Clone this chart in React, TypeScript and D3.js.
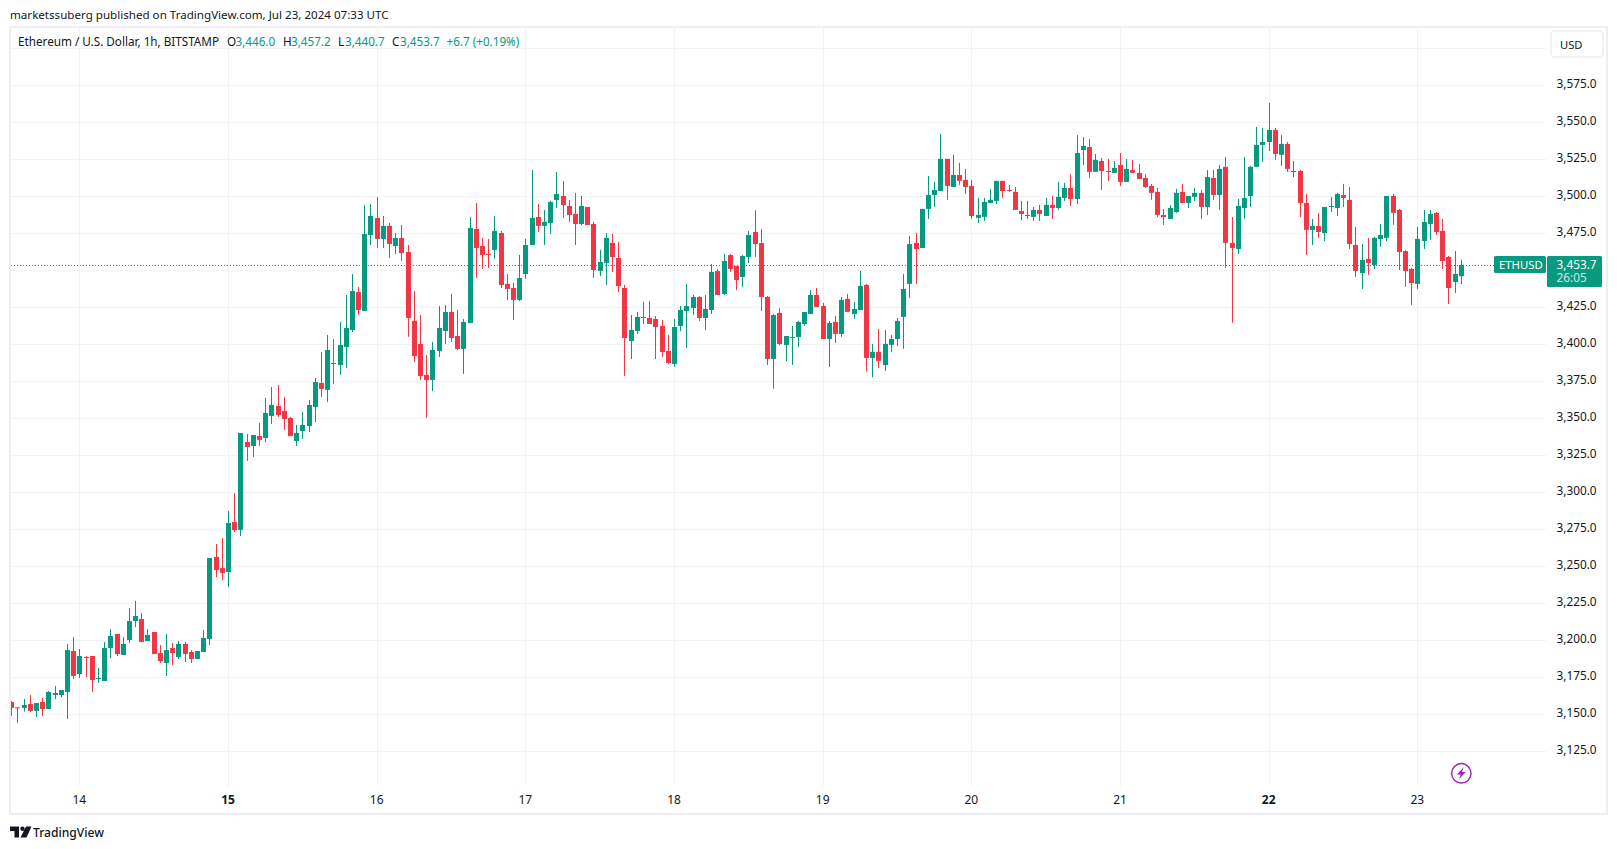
import { useEffect, useRef } from "react";
import * as d3 from "d3";

const WIDTH = 1617;
const HEIGHT = 849;

// hourly candles, Jul 13 13:00 UTC to Jul 23 07:00 UTC
const startTime = Date.UTC(2024, 6, 13, 13);
const endTime = Date.UTC(2024, 6, 23, 7);

const opens = [
  3158.3, 3154.7, 3154.3, 3157, 3152.3, 3158.3, 3153.6, 3163, 3163, 3165.1, 3192.8, 3177.2, 3188.7, 3189.4, 3173.9, 3172.5, 3194.8, 3204.3, 3190.1, 3200.2,
  3213, 3214.4, 3199.5, 3205.6, 3191.4, 3184.7, 3194.8, 3188.7, 3197.5, 3192.1, 3187.4, 3192.1, 3200.9, 3256.3, 3248.8, 3246.1, 3279.9, 3274.6, 3334, 3331.3,
  3338, 3336.7, 3351.6, 3358.3, 3354.9, 3350.2, 3334.7, 3341.4, 3344.8, 3357.7, 3373.9, 3369.2, 3387.4, 3386, 3398.2, 3409.7, 3435.3, 3422.5, 3473.8, 3485.3,
  3471.2, 3480, 3466.4, 3471.8, 3462.4, 3415.8, 3400.2, 3379.3, 3375.9, 3395.5, 3409, 3421.9, 3405.6, 3396.9, 3414.4, 3477.9, 3466.4, 3461, 3463.8, 3475.2,
  3440.8, 3438.1, 3430, 3447.5, 3467.1, 3486, 3480, 3482, 3497.5, 3500.2, 3493.5, 3488.1, 3481.3, 3492.8, 3481.3, 3449.6, 3455, 3468.5, 3458.3, 3438.1,
  3402.2, 3409, 3418.5, 3417.8, 3417.1, 3412.4, 3395.5, 3386.7, 3412.4, 3422.5, 3424.5, 3432, 3417.8, 3423.2, 3449.5, 3434, 3460.3, 3452.9, 3445.5, 3459,
  3475.9, 3468.4, 3432, 3390.1, 3421.2, 3399.5, 3404.3, 3404.9, 3413.7, 3420.5, 3433.3, 3425.9, 3403.6, 3415.1, 3407, 3430.7, 3420.5, 3423.2, 3440.1, 3390.8,
  3394.9, 3386, 3399.6, 3403.6, 3418.5, 3440.8, 3468.5, 3465.1, 3491.5, 3500.9, 3503.6, 3525.3, 3506.3, 3514.4, 3511.1, 3507, 3485.4, 3486.1, 3495.5, 3496.9,
  3510.4, 3504.3, 3503, 3490.1, 3486.7, 3486.1, 3490.8, 3486.7, 3494.2, 3492.1, 3498.9, 3505.6, 3498.2, 3531.3, 3533.3, 3516.5, 3523.9, 3517.1, 3515.8, 3521.2,
  3509.7, 3517.8, 3515.8, 3512.4, 3507, 3503, 3487.4, 3484.7, 3489.4, 3503, 3495.5, 3499.6, 3502.3, 3492.8, 3512.4, 3500.9, 3519.9, 3468.5, 3464.4, 3492.1,
  3500.2, 3519.9, 3534.7, 3536.7, 3544.8, 3528, 3535.4, 3516.5, 3517.1, 3495.5, 3477.3, 3480, 3475.2, 3492.8, 3492.1, 3500.9, 3497.6, 3467.1, 3448.2, 3457.7,
  3453.6, 3471.2, 3471.9, 3500.2, 3490.8, 3463, 3450.9, 3440.8, 3469.8, 3481.3, 3488.7, 3476.6, 3459, 3442.1, 3446,
];

const highs = [
  3159, 3154.7, 3160.3, 3163, 3157.6, 3161, 3165.7, 3169.1, 3166.4, 3197.5, 3202.2, 3194.1, 3189.4, 3189.4, 3181.3, 3198.9, 3207.6, 3204.3, 3202.2, 3221.8,
  3226.6, 3218.4, 3207.6, 3205.6, 3196.8, 3204.3, 3198.2, 3199.5, 3198.9, 3193.4, 3192.8, 3207, 3255.6, 3265.1, 3269.1, 3287.4, 3299.5, 3340.1, 3339.4, 3338.7,
  3346.9, 3363.7, 3371.2, 3372.5, 3364.4, 3350.9, 3345.5, 3354.3, 3362.4, 3377.2, 3394.8, 3406.3, 3403.6, 3415.1, 3433.3, 3447.5, 3438.7, 3494.1, 3494.8, 3499.5,
  3486.7, 3482, 3475.2, 3480.6, 3467.1, 3436, 3419.8, 3392.8, 3401.6, 3425.9, 3426.6, 3434, 3423.2, 3417.1, 3486, 3495.5, 3471.9, 3471.2, 3486.7, 3476.6,
  3447.5, 3441.5, 3460.4, 3471.2, 3517.8, 3494.8, 3490.8, 3496.9, 3516.4, 3510.4, 3497.5, 3502.3, 3500.2, 3492.8, 3482.7, 3463.8, 3475.2, 3474.6, 3469.2, 3440.1,
  3419.8, 3421.8, 3428.6, 3429.3, 3419.1, 3416.4, 3406.3, 3417.1, 3425.9, 3440.7, 3433.3, 3432.6, 3433.3, 3454.3, 3450.9, 3461, 3461, 3452.9, 3460.3, 3476.6,
  3490.7, 3477.9, 3432.6, 3420.5, 3424.5, 3405.6, 3412.4, 3415.8, 3421.8, 3436.7, 3438, 3428, 3415.8, 3419.2, 3432, 3434, 3428.6, 3449.6, 3440.8, 3400.3,
  3410.4, 3409.7, 3406.3, 3417.8, 3447.6, 3473.2, 3475.3, 3491.5, 3513.8, 3509.7, 3542.1, 3525.3, 3528, 3522.6, 3518.5, 3511.1, 3498.9, 3498.9, 3505, 3510.4,
  3510.4, 3507.7, 3506.3, 3496.9, 3496.9, 3492.8, 3494.2, 3498.9, 3500.2, 3509.7, 3509, 3515, 3541.4, 3540, 3538.7, 3528.6, 3525.9, 3525.2, 3523.9, 3529.3,
  3525.2, 3524.6, 3521.9, 3515, 3508.4, 3505.6, 3491.4, 3494.2, 3505, 3508.4, 3500.2, 3505.6, 3504.3, 3517.8, 3517.8, 3521.2, 3526.6, 3486, 3498.2, 3526.6,
  3520.5, 3546.9, 3546.2, 3563.1, 3546.2, 3541.4, 3536.7, 3523.9, 3517.8, 3501.6, 3484.7, 3488.8, 3492.8, 3499.6, 3502.3, 3508.4, 3506.3, 3479.3, 3467.8, 3471.9,
  3472.5, 3481.3, 3500.2, 3501.6, 3491.4, 3463.8, 3451.6, 3479.3, 3490.8, 3490.8, 3489.4, 3484.7, 3459.7, 3463, 3457.2,
];

const lows = [
  3148.9, 3144.1, 3151.8, 3151.6, 3148.2, 3148.9, 3153.6, 3160.3, 3161.7, 3146.8, 3173.9, 3174.5, 3175.2, 3165.1, 3171.2, 3172.5, 3188, 3189.4, 3190.1, 3198.2,
  3209, 3198.9, 3199.5, 3190.7, 3184.7, 3175.9, 3183.3, 3187.4, 3185.3, 3184.7, 3187.4, 3192.1, 3196.8, 3242.8, 3240.7, 3236, 3273.2, 3270.5, 3321.2, 3323.9,
  3331.3, 3334, 3346.2, 3350.9, 3342.1, 3338, 3331.3, 3336, 3340.8, 3347.5, 3364.4, 3361, 3373.2, 3379.3, 3384, 3408.3, 3419.8, 3422.5, 3467.1, 3465.1,
  3465.1, 3458.3, 3461, 3456.3, 3405, 3388, 3375.9, 3350.2, 3368.4, 3391.4, 3400.2, 3401.6, 3396.2, 3380, 3414.4, 3444.8, 3450.9, 3451.6, 3457.7, 3438.1,
  3430, 3416.5, 3429.3, 3444.2, 3467.1, 3475.9, 3467.1, 3474.6, 3492.1, 3485.4, 3482.7, 3467.1, 3480.6, 3480.6, 3444.8, 3446.2, 3440.1, 3448.9, 3435.4, 3378.6,
  3390.1, 3407, 3413.7, 3413.7, 3390.1, 3391.4, 3386.7, 3384.7, 3409, 3397.5, 3419.8, 3415.8, 3409.7, 3420.5, 3433.3, 3433.3, 3448.9, 3436.7, 3438.7, 3454.9,
  3459, 3422.5, 3386, 3370, 3399.5, 3388.7, 3386, 3398.2, 3412.4, 3420.5, 3425.2, 3403.6, 3384.7, 3400.9, 3405, 3421.9, 3417.2, 3423.2, 3381.6, 3377.7,
  3384, 3382, 3394.9, 3398.9, 3396.9, 3431.3, 3440.8, 3465.1, 3484.7, 3492.8, 3503.6, 3497.6, 3506.3, 3507.7, 3501.6, 3484.7, 3482, 3483.4, 3495.5, 3494.8,
  3498.9, 3503, 3490.8, 3484, 3484.7, 3483.4, 3483.4, 3486.7, 3484.7, 3490.8, 3496.9, 3493.5, 3494.8, 3521.2, 3512.4, 3516.5, 3504.3, 3510.4, 3515.8, 3507,
  3509.7, 3515.8, 3511.7, 3505.6, 3497.6, 3486, 3480.7, 3484.7, 3488.8, 3495.5, 3492.1, 3496.9, 3484.7, 3487.4, 3497.6, 3490.8, 3451.6, 3414.5, 3461, 3484.7,
  3492.8, 3519.9, 3523.2, 3530.6, 3524.6, 3520.5, 3516.5, 3513, 3486, 3460.4, 3467.1, 3471.9, 3469.8, 3489.4, 3486.7, 3492.8, 3464.4, 3445.5, 3437.4, 3446.9,
  3450.9, 3465.8, 3469.8, 3480.7, 3450.2, 3438.8, 3426.6, 3437.4, 3464.4, 3470.5, 3473.8, 3450.9, 3427.3, 3434.7, 3440.7,
];

const closes = [
  3154.3, 3154.3, 3156.3, 3152.3, 3157.6, 3153.6, 3165.1, 3164.4, 3166.4, 3193.4, 3175.9, 3189.4, 3188, 3173.2, 3174.5, 3194.8, 3202.9, 3190.7, 3197.5, 3213,
  3216.4, 3198.9, 3203.6, 3190.7, 3186, 3193.4, 3191.4, 3197.5, 3190.7, 3187.4, 3192.8, 3201.6, 3255.6, 3247.5, 3245.5, 3279.3, 3274.5, 3340.1, 3330.6, 3338.7,
  3335.4, 3353.6, 3359, 3352.2, 3349.5, 3338, 3340.1, 3345.5, 3359, 3374.5, 3369.8, 3396.2, 3386.7, 3399.5, 3411, 3436, 3423.2, 3474.5, 3486.7, 3471.2,
  3480, 3467.8, 3471.8, 3461.7, 3417.8, 3392.1, 3378.6, 3375.9, 3396.2, 3411, 3421.8, 3404.3, 3396.9, 3415.1, 3478.6, 3465.1, 3460.4, 3460.4, 3476.6, 3440.1,
  3437.4, 3430, 3444.8, 3467.1, 3485.4, 3480, 3482.7, 3496.2, 3501.6, 3494.1, 3487.4, 3481.3, 3493.5, 3480.6, 3450.2, 3455.6, 3471.9, 3459, 3439.4, 3404.3,
  3409.7, 3418.5, 3417.8, 3413.7, 3411.7, 3394.8, 3387.4, 3411.7, 3423.2, 3425.9, 3432, 3417.8, 3423.9, 3448.9, 3433.3, 3456.3, 3450.9, 3443.5, 3459.7, 3473.9,
  3467.8, 3432, 3390.1, 3419.8, 3400.2, 3405.6, 3404.9, 3415.1, 3421.8, 3433.3, 3425.2, 3403.6, 3414.4, 3407, 3430, 3421.9, 3423.9, 3439.4, 3390.8, 3394.9,
  3388.8, 3400.3, 3403.6, 3415.8, 3437.4, 3467.8, 3464.4, 3491.5, 3500.9, 3504.3, 3525.3, 3507, 3514.4, 3510.4, 3506.3, 3486.7, 3487.4, 3496.2, 3497.6, 3510.4,
  3503.6, 3503.6, 3490.8, 3488.1, 3487.4, 3490.8, 3488.1, 3494.2, 3492.1, 3499.6, 3505.6, 3498.2, 3529.3, 3534, 3516.5, 3524.6, 3517.1, 3516.5, 3519.2, 3509.7,
  3518.5, 3515.8, 3511.7, 3506.3, 3502.3, 3487.4, 3486, 3492.1, 3502.3, 3495.5, 3500.2, 3502.3, 3492.8, 3513, 3500.9, 3518.5, 3468.5, 3465.1, 3493.5, 3498.9,
  3519.9, 3534.7, 3536.7, 3544.8, 3528.6, 3535.4, 3518.5, 3517.1, 3495.5, 3477.3, 3480, 3475.9, 3492.8, 3493.5, 3501.6, 3498.9, 3467.8, 3449.6, 3457, 3455,
  3471.9, 3473.9, 3500.2, 3488.8, 3462.4, 3449.6, 3441.4, 3471.2, 3482.7, 3488, 3475.9, 3456.3, 3438, 3447.5, 3453.7,
];

const priceTicks = d3.range(3125, 3601, 25);
// 3600 sits behind the USD button and 3450 behind the last price tag: grid line only
const hiddenTicks = [3600, 3450];
const boldDays = [15, 22]; // Mondays

const UP = "#089981";
const DOWN = "#F23645";
const GRID = "#F2F3F7";
const BORDER = "#EEEEF4";
const TEXT = "#131722";
const FONT = "'Noto Sans', sans-serif";

export default function App() {
  const ref = useRef<SVGSVGElement>(null);

  useEffect(() => {
    if (!ref.current) return;
    const svg = d3.select(ref.current);
    svg.selectAll("*").remove();

    const paneRight = 1546;
    const paneBottom = 786;

    const x = d3
      .scaleUtc()
      .domain([new Date(startTime), new Date(endTime)])
      .range([11.2, 1460.7]);
    const y = d3.scaleLinear().domain([3125, 3575]).range([751.3, 85.3]);

    svg.append("rect").attr("width", WIDTH).attr("height", HEIGHT).attr("fill", "#fff");

    svg
      .append("text")
      .attr("x", 10)
      .attr("y", 19)
      .attr("font-size", 11.6)
      .attr("fill", TEXT)
      .text("marketssuberg published on TradingView.com, Jul 23, 2024 07:33 UTC");

    // frame
    svg
      .append("rect")
      .attr("x", 10)
      .attr("y", 27)
      .attr("width", 1597)
      .attr("height", 787)
      .attr("fill", "none")
      .attr("stroke", BORDER)
      .attr("stroke-width", 2);

    svg
      .append("defs")
      .append("clipPath")
      .attr("id", "pane")
      .append("rect")
      .attr("x", 11)
      .attr("y", 28)
      .attr("width", paneRight - 11)
      .attr("height", paneBottom - 28);

    const pane = svg.append("g").attr("clip-path", "url(#pane)");

    pane
      .selectAll("line.h")
      .data(priceTicks)
      .join("line")
      .attr("x1", 11)
      .attr("x2", paneRight)
      .attr("y1", (d) => Math.round(y(d)) + 0.5)
      .attr("y2", (d) => Math.round(y(d)) + 0.5)
      .attr("stroke", GRID);

    const days = d3.utcDay.range(new Date(startTime), new Date(endTime));
    pane
      .selectAll("line.v")
      .data(days)
      .join("line")
      .attr("x1", (d) => Math.round(x(d)) + 0.5)
      .attr("x2", (d) => Math.round(x(d)) + 0.5)
      .attr("y1", 28)
      .attr("y2", paneBottom)
      .attr("stroke", GRID);

    // last price line
    pane
      .append("line")
      .attr("x1", 11)
      .attr("x2", 1494)
      .attr("y1", Math.round(y(closes[closes.length - 1])) + 0.5)
      .attr("y2", Math.round(y(closes[closes.length - 1])) + 0.5)
      .attr("stroke", UP)
      .attr("stroke-dasharray", "1 2");

    const candles = opens.map((o, i) => ({
      t: new Date(startTime + i * 3600000),
      o,
      h: highs[i],
      l: lows[i],
      c: closes[i],
    }));

    const candle = pane.selectAll("g.candle").data(candles).join("g");
    candle
      .append("rect")
      .attr("x", (d) => Math.round(x(d.t)))
      .attr("width", 1)
      .attr("y", (d) => y(d.h))
      .attr("height", (d) => y(d.l) - y(d.h))
      .attr("fill", (d) => (d.c >= d.o ? UP : DOWN));
    candle
      .append("rect")
      .attr("x", (d) => Math.round(x(d.t)) - 2)
      .attr("width", 5)
      .attr("y", (d) => y(Math.max(d.o, d.c)))
      .attr("height", (d) => Math.max(1, Math.abs(y(d.o) - y(d.c))))
      .attr("fill", (d) => (d.c >= d.o ? UP : DOWN));

    // price axis
    svg
      .append("g")
      .selectAll("text")
      .data(priceTicks.filter((d) => !hiddenTicks.includes(d)))
      .join("text")
      .attr("x", 1556.5)
      .attr("y", (d) => y(d) + 2.5)
      .attr("font-size", 11.8)
      .attr("fill", TEXT)
      .text((d) => d3.format(",.1f")(d));

    // time axis
    svg
      .append("g")
      .selectAll("text")
      .data(days)
      .join("text")
      .attr("x", (d) => x(d))
      .attr("y", 804)
      .attr("text-anchor", "middle")
      .attr("font-size", 12)
      .attr("font-weight", (d) => (boldDays.includes(d.getUTCDate()) ? 700 : 400))
      .attr("fill", TEXT)
      .text((d) => d.getUTCDate());

    // legend line
    const legend = svg.append("g").attr("font-size", 11.7);
    legend
      .append("text")
      .attr("x", 18)
      .attr("y", 46)
      .attr("fill", TEXT)
      .text("Ethereum / U.S. Dollar, 1h, BITSTAMP");
    const ohlc = [
      { k: "O", v: d3.format(",.1f")(opens[234]), kx: 227, vx: 235.5 },
      { k: "H", v: d3.format(",.1f")(highs[234]), kx: 283, vx: 291 },
      { k: "L", v: d3.format(",.1f")(lows[234]), kx: 338, vx: 345 },
      { k: "C", v: d3.format(",.1f")(closes[234]), kx: 392, vx: 400 },
    ];
    ohlc.forEach((d) => {
      legend.append("text").attr("x", d.kx).attr("y", 46).attr("fill", TEXT).text(d.k);
      legend.append("text").attr("x", d.vx).attr("y", 46).attr("fill", UP).text(d.v);
    });
    legend.append("text").attr("x", 446.5).attr("y", 46).attr("fill", UP).text("+6.7 (+0.19%)");

    // USD button
    svg
      .append("rect")
      .attr("x", 1551)
      .attr("y", 31)
      .attr("width", 52)
      .attr("height", 26)
      .attr("rx", 4)
      .attr("fill", "#fff")
      .attr("stroke", "#EEEEF4")
      .attr("stroke-width", 1.5);
    svg.append("text").attr("x", 1560).attr("y", 49).attr("font-size", 11.2).attr("fill", TEXT).text("USD");

    // last price labels
    svg.append("rect").attr("x", 1494).attr("y", 256).attr("width", 52).attr("height", 17).attr("rx", 1.5).attr("fill", UP);
    svg.append("text").attr("x", 1499).attr("y", 269).attr("font-size", 11.3).attr("fill", "#fff").text("ETHUSD");
    svg.append("rect").attr("x", 1547).attr("y", 256).attr("width", 55).attr("height", 31).attr("rx", 1.5).attr("fill", UP);
    svg
      .append("text")
      .attr("x", 1556.5)
      .attr("y", 269)
      .attr("font-size", 11.8)
      .attr("fill", "#fff")
      .text(d3.format(",.1f")(closes[234]));
    svg.append("text").attr("x", 1556.5).attr("y", 282).attr("font-size", 11.8).attr("fill", "#CDE9E4").text("26:05");

    // lightning badge
    const badge = svg.append("g").attr("transform", "translate(1461.3,773.3)");
    badge.append("circle").attr("r", 9.7).attr("fill", "#fff").attr("stroke", "#9C27B0").attr("stroke-width", 1.5);
    badge.append("path").attr("d", "M2.4 -6 L-4.4 1.2 L-0.6 1.2 L-2.4 6 L4.4 -1.2 L0.6 -1.2 Z").attr("fill", "#9C27B0");

    // TradingView mark
    const logo = svg.append("g").attr("transform", "translate(10,824.5)").attr("fill", TEXT);
    logo.append("path").attr("d", "M0 2 H9 V13 H4.5 V6.5 H0 Z");
    logo.append("circle").attr("cx", 12.5).attr("cy", 4.2).attr("r", 2.2);
    logo.append("path").attr("d", "M16 2 H21.5 L16.5 13 H10.5 Z");
    svg
      .append("text")
      .attr("x", 33)
      .attr("y", 836.5)
      .attr("font-size", 12.1)
      .attr("font-weight", 500)
      .attr("fill", TEXT)
      .text("TradingView");
  }, []);

  return (
    <svg
      ref={ref}
      width={WIDTH}
      height={HEIGHT}
      style={{ position: "absolute", left: 0, top: 0, fontFamily: FONT }}
    />
  );
}
